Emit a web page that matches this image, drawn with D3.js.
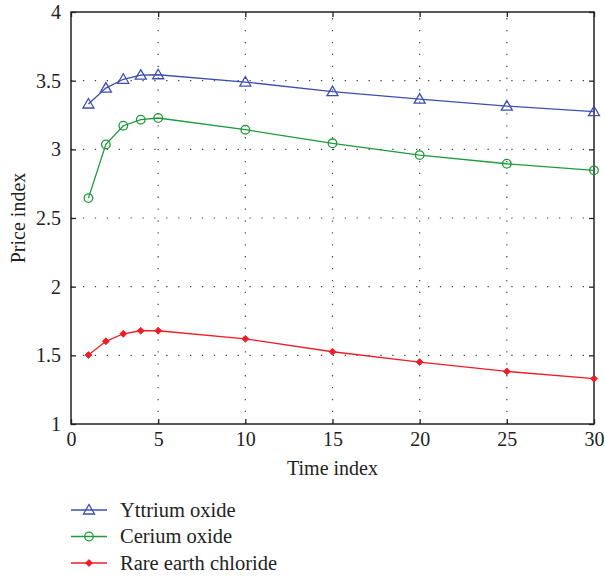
<!DOCTYPE html>
<html>
<head>
<meta charset="utf-8">
<script src="https://cdn.jsdelivr.net/npm/d3@7"></script>
<style>
  body { margin: 0; background: #fff; }
  svg { display: block; font-family: "Liberation Serif", "DejaVu Serif", serif; }
</style>
</head>
<body>
<div id="chart"></div>
<script>
const width = 605;
const height = 578;

const timeIndex = [1, 2, 3, 4, 5, 10, 15, 20, 25, 30];
const yttrium = [3.33, 3.446, 3.51, 3.54, 3.543, 3.49, 3.42, 3.366, 3.315, 3.274];
const cerium = [2.645, 3.036, 3.172, 3.216, 3.228, 3.143, 3.044, 2.958, 2.895, 2.847];
const chloride = [1.502, 1.602, 1.657, 1.679, 1.679, 1.62, 1.526, 1.451, 1.383, 1.33];

const xTicks = [0, 5, 10, 15, 20, 25, 30];
const yTicks = [1, 1.5, 2, 2.5, 3, 3.5, 4];

const seriesNames = ["Yttrium oxide", "Cerium oxide", "Rare earth chloride"];
const seriesColors = ["#3d4fb0", "#1e9a3c", "#ee1c25"];
const seriesMarks = ["triangle", "circle", "diamond"];
const seriesData = [yttrium, cerium, chloride];

const margin = {top: 12, right: 11, bottom: 154, left: 71};
const innerW = width - margin.left - margin.right;
const innerH = height - margin.top - margin.bottom;

const x = d3.scaleLinear().domain([0, 30]).range([margin.left, margin.left + innerW]);
const y = d3.scaleLinear().domain([1, 4]).range([margin.top + innerH, margin.top]);

const svg = d3.select("#chart").append("svg")
    .attr("width", width)
    .attr("height", height);

// dotted grid
const grid = svg.append("g")
    .attr("stroke", "#444")
    .attr("stroke-width", 1.2)
    .attr("stroke-dasharray", "1.3,10.6");

grid.selectAll("line.gx")
  .data(xTicks.slice(1, -1))
  .join("line")
    .attr("x1", d => x(d)).attr("x2", d => x(d))
    .attr("y1", y(1)).attr("y2", y(4));

grid.selectAll("line.gy")
  .data(yTicks.slice(1, -1))
  .join("line")
    .attr("x1", x(0)).attr("x2", x(30))
    .attr("y1", d => y(d)).attr("y2", d => y(d));

// axes, ticks pointing inward
const tickLen = 5;
svg.append("g")
    .attr("transform", `translate(0,${y(1)})`)
    .call(d3.axisBottom(x).tickValues(xTicks).tickSize(-tickLen).tickPadding(8).tickFormat(d3.format("d")))
    .call(g => g.select(".domain").remove());

svg.append("g")
    .attr("transform", `translate(0,${y(4)})`)
    .call(d3.axisTop(x).tickValues(xTicks).tickSize(-tickLen).tickFormat(""))
    .call(g => g.select(".domain").remove());

svg.append("g")
    .attr("transform", `translate(${x(0)},0)`)
    .call(d3.axisLeft(y).tickValues(yTicks).tickSize(-tickLen).tickPadding(10).tickFormat(d => d))
    .call(g => g.select(".domain").remove());

svg.append("g")
    .attr("transform", `translate(${x(30)},0)`)
    .call(d3.axisRight(y).tickValues(yTicks).tickSize(-tickLen).tickFormat(""))
    .call(g => g.select(".domain").remove());

svg.selectAll(".tick line").attr("stroke", "#222").attr("stroke-width", 1.3);
svg.selectAll(".tick text")
    .attr("fill", "#222")
    .style("font-size", "20px")
    .style("font-family", "'Liberation Serif', serif");

// frame
svg.append("rect")
    .attr("x", x(0)).attr("y", y(4))
    .attr("width", x(30) - x(0)).attr("height", y(1) - y(4))
    .attr("fill", "none")
    .attr("stroke", "#222")
    .attr("stroke-width", 1.5);

// axis titles
svg.append("text")
    .attr("x", (x(0) + x(30)) / 2)
    .attr("y", 475)
    .attr("text-anchor", "middle")
    .attr("fill", "#222")
    .style("font-size", "20px")
    .text("Time index");

svg.append("text")
    .attr("transform", `translate(25,${(y(1) + y(4)) / 2}) rotate(-90)`)
    .attr("text-anchor", "middle")
    .attr("fill", "#222")
    .style("font-size", "20px")
    .text("Price index");

function drawMark(sel, type, color) {
  if (type === "triangle") {
    sel.append("path")
        .attr("d", "M0,-5.5L5.5,4L-5.5,4Z")
        .attr("fill", "none")
        .attr("stroke", color)
        .attr("stroke-width", 1.3);
  } else if (type === "circle") {
    sel.append("circle")
        .attr("r", 4.3)
        .attr("fill", "none")
        .attr("stroke", color)
        .attr("stroke-width", 1.3);
  } else {
    sel.append("path")
        .attr("d", "M0,-3.5L3.5,0L0,3.5L-3.5,0Z")
        .attr("fill", color)
        .attr("stroke", color)
        .attr("stroke-width", 0.8);
  }
}

const line = d3.line()
    .x(d => x(d[0]))
    .y(d => y(d[1]));

seriesData.forEach((vals, i) => {
  const pts = timeIndex.map((t, j) => [t, vals[j]]);
  svg.append("path")
      .datum(pts)
      .attr("fill", "none")
      .attr("stroke", seriesColors[i])
      .attr("stroke-width", 1.3)
      .attr("d", line);

  svg.append("g").selectAll("g")
    .data(pts)
    .join("g")
      .attr("transform", d => `translate(${x(d[0])},${y(d[1])})`)
      .each(function() { drawMark(d3.select(this), seriesMarks[i], seriesColors[i]); });
});

// legend
const legend = svg.append("g");
seriesNames.forEach((name, i) => {
  const ly = 510 + i * 26.5;
  legend.append("line")
      .attr("x1", 71).attr("x2", 107)
      .attr("y1", ly).attr("y2", ly)
      .attr("stroke", seriesColors[i])
      .attr("stroke-width", 1.3);
  drawMark(legend.append("g").attr("transform", `translate(89,${ly})`), seriesMarks[i], seriesColors[i]);
  legend.append("text")
      .attr("x", 120)
      .attr("y", ly + 6.5)
      .attr("fill", "#222")
      .style("font-size", "20.5px")
      .text(name);
});
</script>
</body>
</html>
